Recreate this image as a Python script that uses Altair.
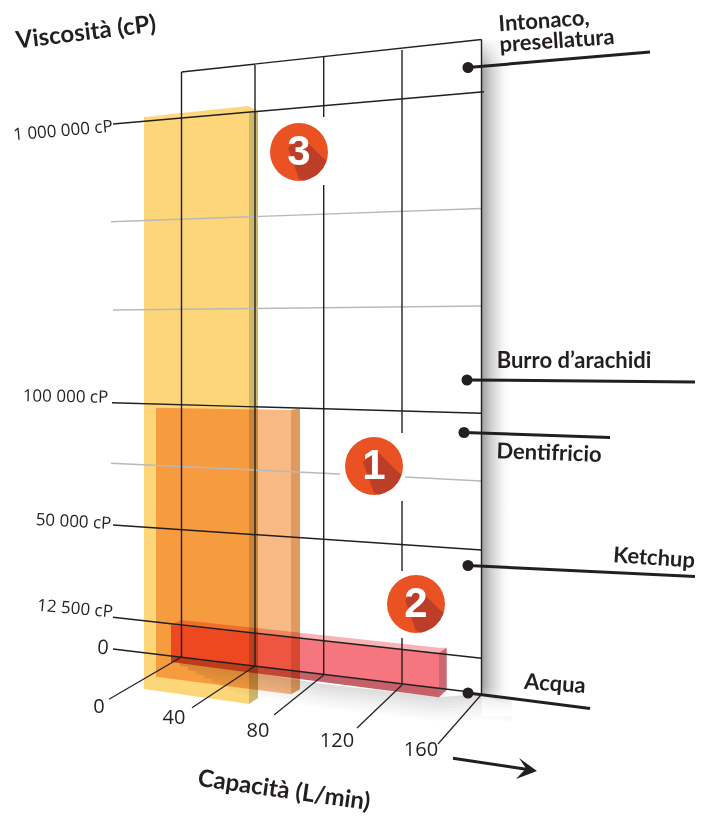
import altair as alt
import pandas as pd

# ---- reference frame of the sketch ----
DOM_X = [8, 695]
DOM_Y = [816, 8]
X = alt.X("x:Q", scale=alt.Scale(domain=DOM_X, nice=False, zero=False), axis=None)
Y = alt.Y("y:Q", scale=alt.Scale(domain=DOM_Y, nice=False, zero=False), axis=None)
X2 = alt.X2("x2:Q")
Y2 = alt.Y2("y2:Q")

INK = "#231f20"

# ---- grid lines: (x0, y0, x1, y1) ----
grid_black = [
    (181.5, 72, 181.5, 657), (255, 65, 255, 666),
    (323.7, 57, 323.7, 117), (323.7, 185, 323.7, 675),
    (402, 50, 402, 433), (402, 501, 402, 571), (402, 638, 402, 685),
    (481.5, 39.5, 481.5, 694),
    (181.5, 72, 481.5, 39.5),
    (113, 124, 484, 91.7),
    (112, 402.7, 481.5, 413.3),
    (113, 525, 481.5, 550),
    (113, 617.3, 481.5, 658.3),
    (113, 649, 470, 692),
]
grid_gray = [
    (111, 221.7, 481.5, 208.5),
    (113, 310, 481.5, 306),
    (111, 463.3, 340, 474),
    (405, 477, 481, 481),
]
axis_ticks = [
    (181.5, 657, 109, 699.3), (255, 666, 192, 707.7), (323.7, 675, 274, 715),
    (402, 685, 357, 728), (481, 695, 438, 744),
]
leaders = [
    (468, 67.5, 650, 52), (467, 380, 703, 382), (464, 432.5, 610, 437.5),
    (468, 565.5, 703, 577), (468, 693, 590, 708.5), (453, 758.3, 528, 769.5),
]
dots_x = [468, 467, 464, 468, 468]
dots_y = [67.5, 380, 432.5, 565.5, 693]

# ---- bar faces: x, top, bottom ----
yellow_x = [144, 249]; yellow_t = [117, 113]; yellow_b = [689, 704]
yellow_top_x = [144, 248, 258]; yellow_top_t = [117, 106, 111]; yellow_top_b = [117, 113, 111]
yellow_side_x = [249, 258]; yellow_side_t = [113, 111]; yellow_side_b = [704, 698]

orange_x = [156, 291]; orange_t = [407.7, 410]; orange_b = [676.7, 694.3]
orange_side_x = [291, 300]; orange_side_t = [410, 408.3]; orange_side_b = [694.3, 689.3]

red_x = [171, 439]; red_t = [625, 652.7]; red_b = [656, 688]
red_top_x = [171, 181, 439, 446.7]; red_top_t = [625, 620, 647.7, 647.7]; red_top_b = [625, 626, 652.7, 647.7]
red_side_x = [439, 446.7]; red_side_t = [652.7, 647.7]; red_side_b = [697.3, 690]
red_strip_x = [171, 439]; red_strip_t = [656, 688]; red_strip_b = [662, 697.3]

# ---- shadows ----
panel_shadow_x = [482, 510]; panel_shadow_t = [40, 40]; panel_shadow_b = [695, 705]
fade_x = [482, 512]
fade_top_t = [36, 36]; fade_top_b = [72, 72]
fade_bot_t = [686, 686]; fade_bot_b = [716, 716]
floor_x = [250, 323, 439, 482, 512]
floor_y = [672, 684, 697, 694, 698]
floor_left_x = [180, 188, 196, 204, 212, 220, 228, 236]
floor_left_y = [663, 664, 665, 666, 667, 668, 669, 670]
floor_steps = [0, 3, 6, 9, 12, 15, 18, 21]
floor_alpha = [0.13, 0.115, 0.095, 0.08, 0.06, 0.045, 0.03, 0.015]

# ---- arrow head ----
head_y = [758, 768.5, 771, 779]
head_x1 = [519, 526, 523.6, 516]
head_x2 = [519, 533.5, 537, 516]

# ---- numbered badges ----
badge_x = [299, 374, 416]
badge_y = [152, 466, 604]
badge_text = ["3", "1", "2"]
beam_dx = [-11, 0, 5, 10, 18, 24, 27.5]
beam_top = [-4, -14, -13, -8, 0, 6, 8.5]
beam_bot = [-4, 27, 28.5, 27, 22.7, 16.3, 9]

# ---- texts: text, x, y, angle ----
y_tick_texts = [
    ("1 000 000 cP", 63, 131, 355), ("100 000 cP", 65.5, 397, 1), ("50 000 cP", 73.5, 522, 3),
    ("12 500 cP", 75, 609, 5),
]
digit_texts = [
    ("0", 103, 648, 5),
    ("0", 99, 707, 0), ("40", 174, 718, 0), ("80", 258, 731, 0),
    ("120", 337, 741, 0), ("160", 421, 750, 0),
]
axis_titles = [("Viscosità (cP)", 86, 33, 353), ("Capacità (L/min)", 284, 791, 8)]
bold_texts = [
    ("Intonaco,", 544, 21, 356), ("presellatura", 557, 41, 356),
    ("Burro d’arachidi", 574, 361, 0), ("Dentifricio", 549, 453, 2),
    ("Ketchup", 654, 558, 4), ("Acqua", 555, 684, 4),
]


def lines(segs, color, width):
    rows = []
    for i, (a, b, c, d) in enumerate(segs):
        rows += [dict(x=a, y=b, g=i, o=0), dict(x=c, y=d, g=i, o=1)]
    return alt.Chart(pd.DataFrame(rows)).mark_line(color=color, strokeWidth=width, strokeCap="butt", clip=True).encode(
        x=X, y=Y, detail="g:N", order="o:Q")


def face(xs, tops, bots, color, multiply=True, opacity=1.0):
    df = pd.DataFrame(dict(x=xs, y=tops, y2=bots))
    style = dict(color=color, opacity=opacity, interpolate="linear")
    if multiply:
        style["blend"] = "multiply"
    return alt.Chart(df).mark_area(**style).encode(x=X, y=Y, y2=Y2)


def texts(rows, **style):
    df = pd.DataFrame(rows, columns=["t", "x", "y", "a"])
    return alt.Chart(df).mark_text(align="center", baseline="middle", **style).encode(
        x=X, y=Y, text="t:N", angle=alt.Angle("a:Q", scale=None))


layers = []

# panel drop shadow
grad = alt.Gradient(gradient="linear", x1=0, x2=1, y1=0, y2=0, stops=[
    alt.GradientStop(offset=0, color="#a0a0a0"),
    alt.GradientStop(offset=0.35, color="#d2d2d2"),
    alt.GradientStop(offset=0.75, color="#f6f6f6"),
    alt.GradientStop(offset=1, color="#ffffff"),
])
layers.append(alt.Chart(pd.DataFrame(dict(x=panel_shadow_x, y=panel_shadow_t, y2=panel_shadow_b)))
              .mark_area(color=grad).encode(x=X, y=Y, y2=Y2))

# bars
layers += [
    face(yellow_x, yellow_t, yellow_b, "#fdd67a", multiply=False),
    face(yellow_top_x, yellow_top_t, yellow_top_b, "#fdd67a", multiply=False),
    face(yellow_side_x, yellow_side_t, yellow_side_b, "#cdb869", multiply=False),
    face(orange_x, orange_t, orange_b, "#f9b984"),
    face(orange_side_x, orange_side_t, orange_side_b, "#df9b5f"),
    face(red_top_x, red_top_t, red_top_b, "#f8b4b4"),
    face(red_x, red_t, red_b, "#f5767e"),
    face(red_strip_x, red_strip_t, red_strip_b, "#c66069"),
    face(red_side_x, red_side_t, red_side_b, "#c96870"),
]

# floor shadow: each band starts further right, so the left end tapers off
for lx, ly, step, alpha in zip(floor_left_x, floor_left_y, floor_steps, floor_alpha):
    xs = [lx] + floor_x
    ys = [ly + step] + [v + step for v in floor_y]
    layers.append(face(xs, ys, [v + 3 for v in ys], "#000000", multiply=False, opacity=alpha))

# soft ends of the panel shadow
fade_up = alt.Gradient(gradient="linear", x1=0, x2=0, y1=0, y2=1, stops=[
    alt.GradientStop(offset=0, color="rgba(255,255,255,1)"),
    alt.GradientStop(offset=1, color="rgba(255,255,255,0)"),
])
fade_down = alt.Gradient(gradient="linear", x1=0, x2=0, y1=0, y2=1, stops=[
    alt.GradientStop(offset=0, color="rgba(255,255,255,0)"),
    alt.GradientStop(offset=1, color="rgba(255,255,255,1)"),
])
layers.append(alt.Chart(pd.DataFrame(dict(x=fade_x, y=fade_top_t, y2=fade_top_b)))
              .mark_area(color=fade_up).encode(x=X, y=Y, y2=Y2))
layers.append(alt.Chart(pd.DataFrame(dict(x=fade_x, y=fade_bot_t, y2=fade_bot_b)))
              .mark_area(color=fade_down).encode(x=X, y=Y, y2=Y2))

# grid
layers += [
    lines(grid_gray, "#b9b9b9", 1.4),
    lines(grid_black, INK, 1.4),
    lines(axis_ticks, INK, 1.2),
    lines(leaders, INK, 3),
]

# arrow head
layers.append(alt.Chart(pd.DataFrame(dict(y=head_y, x=head_x1, x2=head_x2)))
              .mark_area(color=INK, orient="horizontal").encode(y=Y, x=X, x2=X2))

# leader dots
layers.append(alt.Chart(pd.DataFrame(dict(x=dots_x, y=dots_y)))
              .mark_point(shape="circle", filled=True, size=121, color=INK, opacity=1).encode(x=X, y=Y))

# badges
layers.append(alt.Chart(pd.DataFrame(dict(x=badge_x, y=badge_y)))
              .mark_point(shape="circle", filled=True, size=3364, color="#ea5123", opacity=1).encode(x=X, y=Y))
for bx, by in zip(badge_x, badge_y):
    layers.append(face([bx + d for d in beam_dx], [by + d for d in beam_top], [by + d for d in beam_bot],
                       "#bc3e28", multiply=False))
layers.append(alt.Chart(pd.DataFrame(dict(x=badge_x, y=badge_y, t=badge_text)))
              .mark_text(font="Liberation Sans", fontWeight="bold", fontSize=42, color="white", baseline="middle", align="center")
              .encode(x=X, y=Y, text="t:N"))

# texts
layers.append(texts(y_tick_texts, font="Open Sans", fontSize=17, color=INK))
layers.append(texts(digit_texts, font="Open Sans", fontSize=20, color=INK))
layers.append(texts(axis_titles, font="Lato", fontWeight="bold", fontSize=24, color=INK))
layers.append(texts(bold_texts, font="Lato", fontWeight="bold", fontSize=22, color=INK))

chart = alt.layer(*layers).properties(
    width=687, height=808,
    padding=0,
    autosize=alt.AutoSizeParams(type="none"),
    background="white",
).configure_view(stroke=None)

chart.save("out.html", embed_options={"renderer": "svg", "actions": False})
